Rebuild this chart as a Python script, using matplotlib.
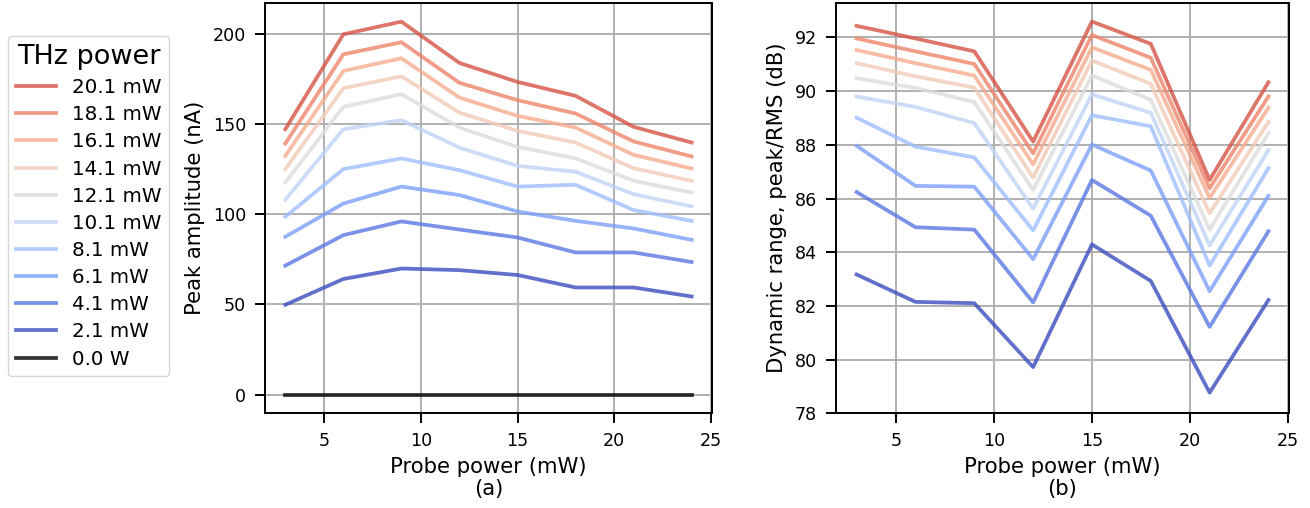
import numpy as np
import matplotlib
matplotlib.use("Agg")
import matplotlib.pyplot as plt

# probe power (mW) on x
probe_power = [3, 6, 9, 12, 15, 18, 21, 24]

# THz power labels, lowest first (0.0 W drawn separately in black)
thz_labels = ["2.1 mW", "4.1 mW", "6.1 mW", "8.1 mW", "10.1 mW",
              "12.1 mW", "14.1 mW", "16.1 mW", "18.1 mW", "20.1 mW"]
zero_label = "0.0 W"

# peak amplitude (nA), one row per THz power
amp_2_1 = [49.8, 64.1, 69.9, 69.0, 66.3, 59.4, 59.4, 54.4]
amp_4_1 = [71.5, 88.4, 96.0, 91.5, 87.1, 78.8, 78.8, 73.5]
amp_6_1 = [87.5, 105.9, 115.3, 110.6, 101.5, 96.3, 92.1, 85.8]
amp_8_1 = [98.6, 125.0, 130.9, 124.4, 115.3, 116.3, 102.3, 96.3]
amp_10_1 = [108.0, 147.1, 152.1, 136.9, 126.8, 123.5, 111.1, 104.3]
amp_12_1 = [117.6, 159.5, 166.5, 148.0, 137.3, 130.9, 118.5, 112.0]
amp_14_1 = [125.0, 169.8, 176.4, 156.3, 146.2, 139.7, 125.5, 118.5]
amp_16_1 = [132.3, 179.4, 186.4, 164.6, 154.5, 148.0, 132.9, 125.3]
amp_18_1 = [139.2, 188.6, 195.3, 172.8, 163.2, 155.8, 140.3, 132.0]
amp_20_1 = [147.1, 199.7, 206.7, 183.8, 173.3, 165.6, 148.4, 139.7]
amp_zero = [0, 0, 0, 0, 0, 0, 0, 0]

# dynamic range, peak/RMS (dB)
dr_2_1 = [83.17, 82.15, 82.10, 79.72, 84.29, 82.93, 78.77, 82.22]
dr_4_1 = [86.24, 84.93, 84.84, 82.13, 86.69, 85.36, 81.22, 84.78]
dr_6_1 = [87.96, 86.47, 86.44, 83.74, 88.01, 87.04, 82.55, 86.10]
dr_8_1 = [89.01, 87.93, 87.53, 84.81, 89.10, 88.69, 83.50, 87.13]
dr_10_1 = [89.80, 89.41, 88.81, 85.62, 89.88, 89.19, 84.25, 87.80]
dr_12_1 = [90.48, 90.12, 89.59, 86.32, 90.58, 89.68, 84.84, 88.44]
dr_14_1 = [91.04, 90.55, 90.13, 86.78, 91.14, 90.27, 85.45, 88.85]
dr_16_1 = [91.53, 91.04, 90.58, 87.27, 91.63, 90.79, 86.02, 89.38]
dr_18_1 = [91.96, 91.48, 91.01, 87.68, 92.09, 91.24, 86.38, 89.80]
dr_20_1 = [92.43, 91.96, 91.48, 88.12, 92.59, 91.76, 86.69, 90.33]

amplitude = [amp_2_1, amp_4_1, amp_6_1, amp_8_1, amp_10_1,
             amp_12_1, amp_14_1, amp_16_1, amp_18_1, amp_20_1]
dyn_range = [dr_2_1, dr_4_1, dr_6_1, dr_8_1, dr_10_1,
             dr_12_1, dr_14_1, dr_16_1, dr_18_1, dr_20_1]

plt.rcParams['font.size'] = 12.6
for a in ('xtick', 'ytick'):
    plt.rcParams[a + '.major.size'] = 7
    plt.rcParams[a + '.major.width'] = 1.4
    plt.rcParams[a + '.major.pad'] = 6.5
    plt.rcParams[a + '.labelsize'] = 12.6
plt.rcParams['axes.labelsize'] = 15.2

fig = plt.figure(figsize=(13.1, 5.08), dpi=100)
ax1 = fig.add_axes([0.2023, 0.1864, 0.3412, 0.8077])
ax2 = fig.add_axes([0.6382, 0.1864, 0.3458, 0.8077])

cmap = plt.get_cmap('coolwarm')
lw = 2.7

ax1.plot(probe_power, amp_zero, color='black', alpha=0.8, lw=lw, label=zero_label)
for i, (lab, y) in enumerate(zip(thz_labels, amplitude)):
    ax1.plot(probe_power, y, color=cmap(i / 10), alpha=0.8, lw=lw, label=lab)

for i, y in enumerate(dyn_range):
    ax2.plot(probe_power, y, color=cmap(i / 10), alpha=0.8, lw=lw)

ax1.set_xlabel("Probe power (mW)\n(a)", linespacing=1.1, labelpad=5)
ax1.set_ylabel("Peak amplitude (nA)", labelpad=6)
ax2.set_xlabel("Probe power (mW)\n(b)", linespacing=1.1, labelpad=5)
ax2.set_ylabel("Dynamic range, peak/RMS (dB)", labelpad=6)

for ax in (ax1, ax2):
    ax.grid(True, color='#b0b0b0', lw=1.4)
    ax.set_xticks([5, 10, 15, 20, 25])
    for s in ax.spines.values():
        s.set_linewidth(1.4)
ax1.set_yticks([0, 50, 100, 150, 200])
ax2.set_yticks(np.arange(78, 93, 2))

handles, labels = ax1.get_legend_handles_labels()
handles = handles[1:][::-1] + handles[:1]
labels = labels[1:][::-1] + labels[:1]
leg = fig.legend(handles, labels, title="THz power", loc='upper left',
                 bbox_to_anchor=(8 / 1310, 1 - 36 / 508), borderaxespad=0,
                 fontsize=14.3, title_fontsize=19.5, labelspacing=0.41,
                 handlelength=2.0)

fig.savefig("out.png", dpi=100)
